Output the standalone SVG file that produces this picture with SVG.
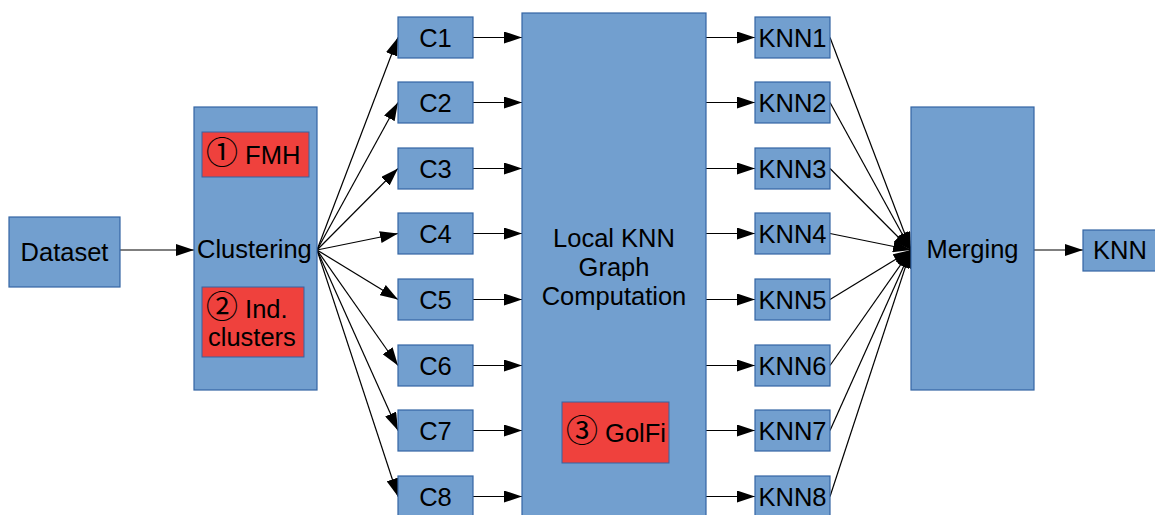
<svg xmlns="http://www.w3.org/2000/svg" width="1155" height="515" viewBox="0 0 1155 515">
<style>
.b{fill:#729fcf;stroke:#3465a4;stroke-width:1.2}
.r{fill:#ef413d;stroke:#3465a4;stroke-width:1}
.t{font-family:"Liberation Sans",Arial,sans-serif;font-size:25.5px;fill:#000}
.n{font-family:"Noto Sans CJK JP","Noto Sans CJK SC",sans-serif;font-size:32px}
.m{text-anchor:middle}
.c{stroke:#000;stroke-width:1.2;fill:none;marker-end:url(#ah)}
</style>
<defs>
<marker id="ah" markerUnits="userSpaceOnUse" markerWidth="18" markerHeight="12" refX="18" refY="6" orient="auto" viewBox="0 0 18 12">
<path d="M0,0 L18,6 L0,12 z" fill="#000"/>
</marker>
</defs>
<g id="connectors">
<path class="c" d="M120,250 H194"/>
<path class="c" d="M317,250 L398,37.5"/>
<path class="c" d="M317,250 L398,102.5"/>
<path class="c" d="M317,250 L398,168.5"/>
<path class="c" d="M317,250 L398,233.5"/>
<path class="c" d="M317,250 L398,299.5"/>
<path class="c" d="M317,250 L398,365.5"/>
<path class="c" d="M317,250 L398,430.5"/>
<path class="c" d="M317,250 L398,496.5"/>
<path class="c" d="M473,37.5 H522"/>
<path class="c" d="M473,102.5 H522"/>
<path class="c" d="M473,168.5 H522"/>
<path class="c" d="M473,233.5 H522"/>
<path class="c" d="M473,299.5 H522"/>
<path class="c" d="M473,365.5 H522"/>
<path class="c" d="M473,430.5 H522"/>
<path class="c" d="M473,496.5 H522"/>
<path class="c" d="M706,37.5 H755"/>
<path class="c" d="M706,102.5 H755"/>
<path class="c" d="M706,168.5 H755"/>
<path class="c" d="M706,233.5 H755"/>
<path class="c" d="M706,299.5 H755"/>
<path class="c" d="M706,365.5 H755"/>
<path class="c" d="M706,430.5 H755"/>
<path class="c" d="M706,496.5 H755"/>
<path class="c" d="M830,37.5 L911,250"/>
<path class="c" d="M830,102.5 L911,250"/>
<path class="c" d="M830,168.5 L911,250"/>
<path class="c" d="M830,233.5 L911,250"/>
<path class="c" d="M830,299.5 L911,250"/>
<path class="c" d="M830,365.5 L911,250"/>
<path class="c" d="M830,430.5 L911,250"/>
<path class="c" d="M830,496.5 L911,250"/>
<path class="c" d="M1034,250 H1083"/>
</g>
<g id="dataset"><rect class="b" x="9" y="217" width="111" height="70"/><text class="t m" x="64.5" y="261">Dataset</text></g>
<g id="clustering"><rect class="b" x="194" y="107" width="123" height="283"/><text class="t" x="197" y="258">Clustering</text></g>
<g id="fmh"><rect class="r" x="202" y="132" width="107" height="45"/><text class="t" x="206" y="164"><tspan class="n">①</tspan> FMH</text></g>
<g id="ind"><rect class="r" x="202" y="287" width="102" height="70"/><text class="t" x="206" y="318"><tspan class="n">②</tspan> Ind.</text><text class="t" x="208" y="346">clusters</text></g>
<g id="c1"><rect class="b" x="398" y="17" width="75" height="41"/><text class="t m" x="435.5" y="47">C1</text></g>
<g id="c2"><rect class="b" x="398" y="82" width="75" height="41"/><text class="t m" x="435.5" y="112">C2</text></g>
<g id="c3"><rect class="b" x="398" y="148" width="75" height="41"/><text class="t m" x="435.5" y="178">C3</text></g>
<g id="c4"><rect class="b" x="398" y="213" width="75" height="41"/><text class="t m" x="435.5" y="243">C4</text></g>
<g id="c5"><rect class="b" x="398" y="279" width="75" height="41"/><text class="t m" x="435.5" y="309">C5</text></g>
<g id="c6"><rect class="b" x="398" y="345" width="75" height="41"/><text class="t m" x="435.5" y="375">C6</text></g>
<g id="c7"><rect class="b" x="398" y="410" width="75" height="41"/><text class="t m" x="435.5" y="440">C7</text></g>
<g id="c8"><rect class="b" x="398" y="476" width="75" height="41"/><text class="t m" x="435.5" y="506">C8</text></g>
<g id="local"><rect class="b" x="522" y="13" width="184" height="510"/><text class="t m" x="614" y="247">Local KNN</text><text class="t m" x="614" y="276">Graph</text><text class="t m" x="614" y="305">Computation</text></g>
<g id="golfi"><rect class="r" x="562" y="402" width="107" height="61"/><text class="t" x="566" y="442"><tspan class="n">③</tspan> GolFi</text></g>
<g id="knn1"><rect class="b" x="755" y="17" width="75" height="41"/><text class="t m" x="792.5" y="47">KNN1</text></g>
<g id="knn2"><rect class="b" x="755" y="82" width="75" height="41"/><text class="t m" x="792.5" y="112">KNN2</text></g>
<g id="knn3"><rect class="b" x="755" y="148" width="75" height="41"/><text class="t m" x="792.5" y="178">KNN3</text></g>
<g id="knn4"><rect class="b" x="755" y="213" width="75" height="41"/><text class="t m" x="792.5" y="243">KNN4</text></g>
<g id="knn5"><rect class="b" x="755" y="279" width="75" height="41"/><text class="t m" x="792.5" y="309">KNN5</text></g>
<g id="knn6"><rect class="b" x="755" y="345" width="75" height="41"/><text class="t m" x="792.5" y="375">KNN6</text></g>
<g id="knn7"><rect class="b" x="755" y="410" width="75" height="41"/><text class="t m" x="792.5" y="440">KNN7</text></g>
<g id="knn8"><rect class="b" x="755" y="476" width="75" height="41"/><text class="t m" x="792.5" y="506">KNN8</text></g>
<g id="merging"><rect class="b" x="911" y="107" width="123" height="283"/><text class="t m" x="972.5" y="258">Merging</text></g>
<g id="knn"><rect class="b" x="1083" y="230" width="75" height="41"/><text class="t" x="1093" y="259">KNN</text></g>
</svg>
